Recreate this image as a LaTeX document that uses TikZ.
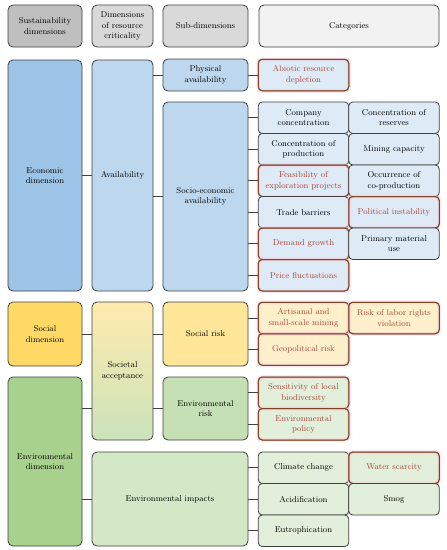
\documentclass[tikz,border=0pt]{standalone}
\usetikzlibrary{positioning}
\definecolor{edgegray}{HTML}{404040}
\definecolor{hdrdark}{HTML}{BFBFBF}
\definecolor{hdrmid}{HTML}{D9D9D9}
\definecolor{hdrlight}{HTML}{F2F2F2}
\definecolor{ecodim}{HTML}{9DC3E6}
\definecolor{ecosub}{HTML}{BDD7EE}
\definecolor{ecocat}{HTML}{DEEBF7}
\definecolor{socdim}{HTML}{FFD966}
\definecolor{socsub}{HTML}{FFE699}
\definecolor{soccat}{HTML}{FFF0CC}
\definecolor{envdim}{HTML}{A9D18E}
\definecolor{envsub}{HTML}{C5E0B4}
\definecolor{envcat}{HTML}{E2EFDA}
\definecolor{redtext}{HTML}{A8453A}
\definecolor{rededge}{HTML}{7A4526}
\definecolor{redglow}{HTML}{F7CAD6}
\tikzset{
  box/.style={rectangle, rounded corners=5pt, draw=edgegray, line width=0.8pt,
    outer sep=0pt, inner sep=1pt, align=center, text=black,
    font=\fontsize{8.5}{10.5}\selectfont},
  catbox/.style={box, rounded corners=4pt, minimum width=90.5pt, minimum height=31.5pt,
    text width=88pt},
  redcat/.style={catbox, text=redtext, draw=rededge, line width=1pt,
    postaction={draw=redglow, opacity=0.45, line width=4pt},
    postaction={draw=rededge, line width=1pt}},
  link/.style={draw=edgegray, line width=0.8pt}
}
\begin{document}
\begin{tikzpicture}[x=1pt, y=-1pt]
\useasboundingbox (0,0) rectangle (447,550);
% headers
\node (h1) [box, fill=hdrdark, minimum width=74pt, minimum height=42pt] at (45,26) {Sustainability\\dimensions};
\node (h2) [box, fill=hdrmid, minimum width=61pt, minimum height=42pt] at (122.5,26) {Dimensions\\of resource\\criticality};
\node (h3) [box, fill=hdrmid, minimum width=85pt, minimum height=42pt] at (205.5,26) {Sub-dimensions};
\node (h4) [box, fill=hdrlight, minimum width=180pt, minimum height=42pt] at (349,26) {Categories};

% economic dimension
\node (eco) [box, fill=ecodim, minimum width=74pt, minimum height=231pt] at (45,175.5) {Economic\\dimension};
\node (avail) [box, fill=ecosub, minimum width=61pt, minimum height=231pt] at (122.5,175.5) {Availability};
\node (phys) [box, fill=ecosub, minimum width=85pt, minimum height=32pt] at (205.5,75) {Physical\\availability};
\node (socio) [box, fill=ecosub, minimum width=85pt, minimum height=189pt] at (205.5,196.5) {Socio-economic\\availability};
\node (abio) [redcat, fill=ecocat] at (303.5,75) {Abiotic resource\\depletion};
\node (c11) [catbox, fill=ecocat] at (303.5,117.75) {Company\\concentration};
\node (c12) [catbox, fill=ecocat, right=0pt of c11] {Concentration of\\reserves};
\node (c21) [catbox, fill=ecocat, below=0pt of c11] {Concentration of\\production};
\node (c22) [catbox, fill=ecocat, right=0pt of c21] {Mining capacity};
\node (c31) [redcat, fill=ecocat, below=0pt of c21] {Feasibility of\\exploration projects};
\node (c32) [catbox, fill=ecocat, right=0pt of c31] {Occurrence of\\co-production};
\node (c41) [catbox, fill=ecocat, below=0pt of c31] {Trade barriers};
\node (c42) [redcat, fill=ecocat, right=0pt of c41] {Political instability};
\node (c51) [redcat, fill=ecocat, below=0pt of c41] {Demand growth};
\node (c52) [catbox, fill=ecocat, right=0pt of c51] {Primary material\\use};
\node (c61) [redcat, fill=ecocat, below=0pt of c51] {Price fluctuations};

% social dimension
\node (soc) [box, fill=socdim, minimum width=74pt, minimum height=64pt] at (45,334) {Social\\dimension};
\node (socacc) [box, top color=socsub!80!white, bottom color=envsub!90!white, minimum width=61pt, minimum height=138pt] at (122.5,371) {Societal\\acceptance};
\node (socrisk) [box, fill=socsub, minimum width=85pt, minimum height=64pt] at (205.5,334) {Social risk};
\node (s11) [redcat, fill=soccat] at (303.5,318) {Artisanal and\\small-scale mining};
\node (s12) [redcat, fill=soccat, right=0pt of s11] {Risk of labor rights\\violation};
\node (s21) [redcat, fill=soccat, below=0pt of s11] {Geopolitical risk};

% environmental dimension
\node (env) [box, fill=envdim, minimum width=74pt, minimum height=169pt] at (45,461.5) {Environmental\\dimension};
\node (envrisk) [box, fill=envsub, minimum width=85pt, minimum height=63pt] at (205.5,408.5) {Environmental\\risk};
\node (envimp) [box, fill=envsub!75!white, minimum width=156pt, minimum height=94pt] at (170,499) {Environmental impacts};
\node (r11) [redcat, fill=envcat] at (303.5,392.75) {Sensitivity of local\\biodiversity};
\node (r21) [redcat, fill=envcat, below=0pt of r11] {Environmental\\policy};
\node (e11) [catbox, fill=envcat] at (303.5,467.75) {Climate change};
\node (e12) [redcat, fill=envcat, right=0pt of e11] {Water scarcity};
\node (e21) [catbox, fill=envcat, below=0pt of e11] {Acidification};
\node (e22) [catbox, fill=envcat, right=0pt of e21] {Smog};
\node (e31) [catbox, fill=envcat, below=0pt of e21] {Eutrophication};

% connectors
\draw[link] (eco) -- (avail);
\draw[link] (avail.east |- phys) -- (phys);
\draw[link] (avail.east |- socio) -- (socio);
\draw[link] (phys) -- (abio);
\draw[link] (socio.east |- c11) -- (c11);
\draw[link] (socio.east |- c21) -- (c21);
\draw[link] (socio.east |- c31) -- (c31);
\draw[link] (socio.east |- c41) -- (c41);
\draw[link] (socio.east |- c51) -- (c51);
\draw[link] (socio.east |- c61) -- (c61);
\draw[link] (soc) -- (soc -| socacc.west);
\draw[link] (socacc.east |- socrisk) -- (socrisk);
\draw[link] (socrisk.east |- s11) -- (s11);
\draw[link] (socrisk.east |- s21) -- (s21);
\draw[link] (env.east |- envrisk) -- (socacc.west |- envrisk);
\draw[link] (socacc.east |- envrisk) -- (envrisk);
\draw[link] (envrisk.east |- r11) -- (r11);
\draw[link] (envrisk.east |- r21) -- (r21);
\draw[link] (env.east |- envimp) -- (envimp);
\draw[link] (envimp.east |- e11) -- (e11);
\draw[link] (envimp.east |- e21) -- (e21);
\draw[link] (envimp.east |- e31) -- (e31);
\end{tikzpicture}
\end{document}
